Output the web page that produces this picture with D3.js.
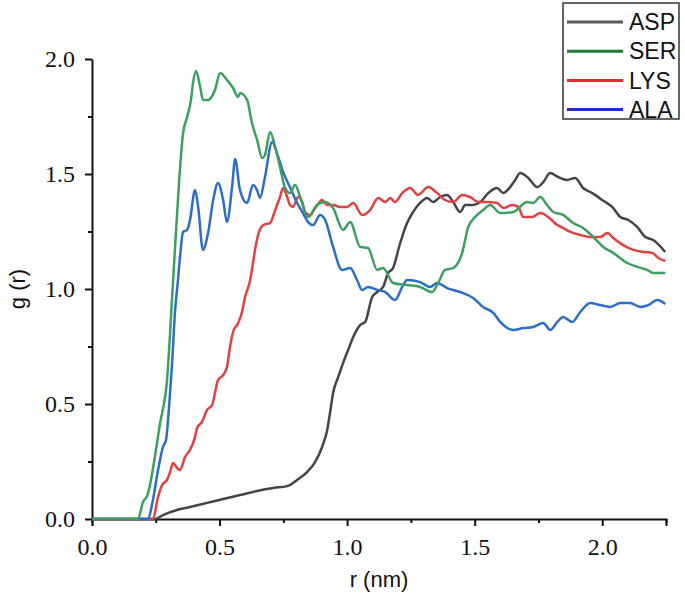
<!DOCTYPE html>
<html>
<head>
<meta charset="utf-8">
<script src="https://cdn.jsdelivr.net/npm/d3@7"></script>
<style>
  body { margin: 0; background: #fff; }
</style>
</head>
<body>
<div class="visual-container"></div>
<script>
/*************** DATA ***************/
// r (nm), g(r) pairs
var aspData = [[0,0],[0.247,0],[0.278,0.017],[0.333,0.039],[0.384,0.052],[0.451,0.070],[0.514,0.087],
  [0.580,0.104],[0.647,0.122],[0.710,0.135],[0.765,0.143],[0.804,0.170],[0.843,0.204],[0.875,0.248],
  [0.902,0.313],[0.922,0.387],[0.933,0.461],[0.945,0.548],[0.965,0.617],[0.984,0.678],[1.004,0.735],
  [1.024,0.791],[1.051,0.843],[1.071,0.857],[1.098,0.965],[1.118,0.987],[1.141,1.009],[1.161,1.070],
  [1.180,1.091],[1.208,1.200],[1.235,1.287],[1.259,1.335],[1.286,1.374],[1.314,1.396],[1.337,1.378],
  [1.365,1.400],[1.392,1.409],[1.416,1.378],[1.443,1.335],[1.463,1.365],[1.494,1.365],[1.522,1.378],
  [1.553,1.417],[1.588,1.439],[1.612,1.417],[1.639,1.443],[1.659,1.474],[1.678,1.504],[1.710,1.483],
  [1.745,1.443],[1.769,1.465],[1.796,1.504],[1.827,1.487],[1.863,1.474],[1.894,1.483],[1.925,1.439],
  [1.961,1.417],[2.000,1.387],[2.039,1.357],[2.071,1.313],[2.102,1.300],[2.137,1.270],[2.169,1.226],
  [2.200,1.213],[2.247,1.161]];

var serData = [[0,0],[0.180,0],[0.200,0.074],[0.216,0.100],[0.267,0.417],[0.294,0.604],[0.318,1.039],
  [0.341,1.461],[0.357,1.678],[0.373,1.748],[0.388,1.822],[0.396,1.896],[0.408,1.948],[0.424,1.878],
  [0.435,1.822],[0.455,1.822],[0.482,1.865],[0.502,1.939],[0.529,1.909],[0.553,1.874],[0.573,1.835],
  [0.580,1.852],[0.608,1.822],[0.627,1.722],[0.647,1.648],[0.667,1.570],[0.678,1.583],[0.698,1.683],
  [0.718,1.617],[0.737,1.530],[0.757,1.439],[0.776,1.417],[0.796,1.452],[0.816,1.400],[0.847,1.313],
  [0.882,1.365],[0.914,1.378],[0.945,1.352],[0.984,1.257],[1.012,1.291],[1.051,1.183],[1.082,1.178],
  [1.118,1.083],[1.141,1.091],[1.180,1.026],[1.235,1.017],[1.286,1.009],[1.333,0.987],[1.357,1.026],
  [1.384,1.083],[1.416,1.091],[1.451,1.157],[1.475,1.270],[1.502,1.313],[1.533,1.343],[1.561,1.365],
  [1.600,1.330],[1.651,1.335],[1.706,1.378],[1.729,1.374],[1.757,1.400],[1.784,1.365],[1.808,1.335],
  [1.847,1.322],[1.886,1.287],[1.925,1.265],[1.965,1.226],[2.004,1.183],[2.043,1.157],[2.098,1.113],
  [2.137,1.096],[2.176,1.083],[2.200,1.070],[2.247,1.070]];

var lysData = [[0,0],[0.239,0],[0.259,0.096],[0.275,0.148],[0.294,0.170],[0.306,0.204],[0.318,0.243],
  [0.333,0.222],[0.345,0.213],[0.365,0.270],[0.384,0.300],[0.404,0.357],[0.412,0.396],[0.431,0.422],
  [0.451,0.474],[0.471,0.496],[0.482,0.548],[0.494,0.604],[0.514,0.626],[0.529,0.661],[0.541,0.748],
  [0.553,0.813],[0.573,0.852],[0.588,0.900],[0.600,0.965],[0.620,1.039],[0.627,1.083],[0.639,1.170],
  [0.651,1.235],[0.671,1.278],[0.698,1.287],[0.718,1.343],[0.737,1.400],[0.749,1.439],[0.765,1.400],
  [0.776,1.365],[0.788,1.357],[0.808,1.400],[0.824,1.378],[0.835,1.335],[0.855,1.322],[0.875,1.352],
  [0.902,1.387],[0.922,1.365],[0.945,1.365],[0.973,1.357],[1.000,1.357],[1.024,1.374],[1.059,1.322],
  [1.090,1.343],[1.122,1.396],[1.149,1.378],[1.169,1.396],[1.188,1.378],[1.216,1.417],[1.247,1.439],
  [1.278,1.409],[1.318,1.443],[1.353,1.417],[1.384,1.387],[1.416,1.378],[1.451,1.409],[1.482,1.400],
  [1.514,1.378],[1.549,1.378],[1.588,1.374],[1.612,1.352],[1.647,1.365],[1.671,1.357],[1.690,1.313],
  [1.725,1.313],[1.757,1.330],[1.788,1.313],[1.824,1.278],[1.847,1.265],[1.875,1.248],[1.914,1.235],
  [1.953,1.226],[1.992,1.226],[2.020,1.243],[2.043,1.222],[2.082,1.191],[2.122,1.170],[2.161,1.161],
  [2.196,1.157],[2.220,1.135],[2.247,1.122]];

var alaData = [[0,0],[0.220,0],[0.235,0.061],[0.259,0.213],[0.278,0.313],[0.290,0.343],[0.302,0.487],
  [0.314,0.678],[0.325,0.896],[0.337,1.039],[0.345,1.139],[0.357,1.248],[0.373,1.257],[0.384,1.300],
  [0.404,1.430],[0.416,1.357],[0.435,1.170],[0.455,1.243],[0.475,1.387],[0.494,1.461],[0.514,1.387],
  [0.529,1.291],[0.549,1.443],[0.561,1.565],[0.580,1.430],[0.608,1.374],[0.631,1.452],[0.647,1.430],
  [0.659,1.396],[0.678,1.487],[0.706,1.639],[0.725,1.591],[0.749,1.509],[0.776,1.443],[0.804,1.374],
  [0.827,1.330],[0.847,1.291],[0.867,1.278],[0.894,1.322],[0.914,1.300],[0.945,1.183],[0.980,1.083],
  [1.012,1.091],[1.039,1.039],[1.059,0.996],[1.082,1.009],[1.118,0.996],[1.149,0.987],[1.188,0.952],
  [1.216,1.009],[1.235,1.039],[1.286,1.030],[1.325,1.009],[1.353,1.026],[1.392,1.004],[1.443,0.987],
  [1.494,0.961],[1.533,0.922],[1.573,0.896],[1.600,0.857],[1.651,0.822],[1.690,0.830],[1.729,0.835],
  [1.769,0.852],[1.796,0.822],[1.824,0.857],[1.847,0.878],[1.882,0.857],[1.914,0.900],[1.953,0.939],
  [1.992,0.930],[2.031,0.922],[2.071,0.939],[2.110,0.939],[2.149,0.922],[2.180,0.930],[2.216,0.952],
  [2.247,0.935]];

var seriesNames = ['ASP', 'SER', 'LYS', 'ALA'];
var seriesData = [aspData, serData, lysData, alaData];
var lineColours = ['#454545', '#3d9f60', '#df4242', '#2e6dc6'];
var legendColours = ['#595959', '#1b7a30', '#e4282c', '#1c2ecf'];
var drawOrder = [0, 2, 3, 1];   // SER sits on top along the baseline

var xTicks = [0, 0.5, 1.0, 1.5, 2.0];
var xMinorTicks = [0.25, 0.75, 1.25, 1.75, 2.25];
var yTicks = [0, 0.5, 1.0, 1.5, 2.0];
var yMinorTicks = [0.25, 0.75, 1.25, 1.75];

/*************** CHART ***************/
const width = 685;
const height = 597;
const margin = { top: 59, right: 19, bottom: 78, left: 92 };
const serif = '"Liberation Serif", "Times New Roman", serif';
const sans = '"Liberation Sans", Arial, sans-serif';

const svg = d3.select('.visual-container')
  .append('svg')
  .attr('width', width)
  .attr('height', height);

const x = d3.scaleLinear().domain([0, 2.25]).range([margin.left, width - margin.right]);
const y = d3.scaleLinear().domain([0, 2.0]).range([height - margin.bottom, margin.top]);

// minor ticks first, then the labelled axis on top
svg.append('g')
  .attr('transform', 'translate(0,' + y(0) + ')')
  .call(d3.axisBottom(x).tickValues(xMinorTicks).tickSize(4).tickFormat(''))
  .call(g => g.select('.domain').remove())
  .selectAll('line').attr('stroke', '#111').attr('stroke-width', 2);

svg.append('g')
  .attr('transform', 'translate(' + x(0) + ',0)')
  .call(d3.axisLeft(y).tickValues(yMinorTicks).tickSize(4).tickFormat(''))
  .call(g => g.select('.domain').remove())
  .selectAll('line').attr('stroke', '#111').attr('stroke-width', 2);

const xAxis = svg.append('g')
  .attr('transform', 'translate(0,' + y(0) + ')')
  .call(d3.axisBottom(x).tickValues(xTicks).tickSize(7).tickSizeOuter(7).tickPadding(12).tickFormat(d3.format('.1f')));

const yAxis = svg.append('g')
  .attr('transform', 'translate(' + x(0) + ',0)')
  .call(d3.axisLeft(y).tickValues(yTicks).tickSize(7).tickSizeOuter(0).tickPadding(10).tickFormat(d3.format('.1f')));

[xAxis, yAxis].forEach(a => {
  a.attr('font-family', serif).attr('font-size', 24);
  a.select('.domain').attr('stroke', '#111').attr('stroke-width', 2);
  a.selectAll('.tick line').attr('stroke', '#111').attr('stroke-width', 2);
  a.selectAll('.tick text').attr('fill', '#111');
});

// axis titles
svg.append('text')
  .attr('x', (x(0) + x(2.25)) / 2)
  .attr('y', 587)
  .attr('text-anchor', 'middle')
  .attr('font-family', sans)
  .attr('font-size', 22)
  .attr('fill', '#111')
  .text('r (nm)');

svg.append('text')
  .attr('transform', 'translate(25,' + (y(0) + y(2)) / 2 + ') rotate(-90)')
  .attr('text-anchor', 'middle')
  .attr('font-family', sans)
  .attr('font-size', 22)
  .attr('fill', '#111')
  .text('g (r)');

// curves
const line = d3.line()
  .x(d => x(d[0]))
  .y(d => y(d[1]))
  .curve(d3.curveMonotoneX);

drawOrder.forEach(i => {
  svg.append('path')
    .datum(seriesData[i])
    .attr('fill', 'none')
    .attr('stroke', lineColours[i])
    .attr('stroke-width', 2.5)
    .attr('stroke-linejoin', 'round')
    .attr('d', line);
});

/*************** LEGEND ***************/
const legend = svg.append('g').attr('transform', 'translate(563,3)');

legend.append('rect')
  .attr('width', 116)
  .attr('height', 116)
  .attr('fill', '#fff')
  .attr('stroke', '#333')
  .attr('stroke-width', 1.5);

const rows = legend.selectAll('.legend-row')
  .data(seriesNames)
  .enter()
  .append('g')
  .attr('class', 'legend-row')
  .attr('transform', (d, i) => 'translate(0,' + (19 + i * 29.2) + ')');

rows.append('line')
  .attr('x1', 4)
  .attr('x2', 60)
  .attr('stroke', (d, i) => legendColours[i])
  .attr('stroke-width', 3);

rows.append('text')
  .attr('x', 66)
  .attr('dy', '0.36em')
  .attr('font-family', sans)
  .attr('font-size', 23)
  .attr('fill', '#111')
  .text(d => d);
</script>
</body>
</html>
